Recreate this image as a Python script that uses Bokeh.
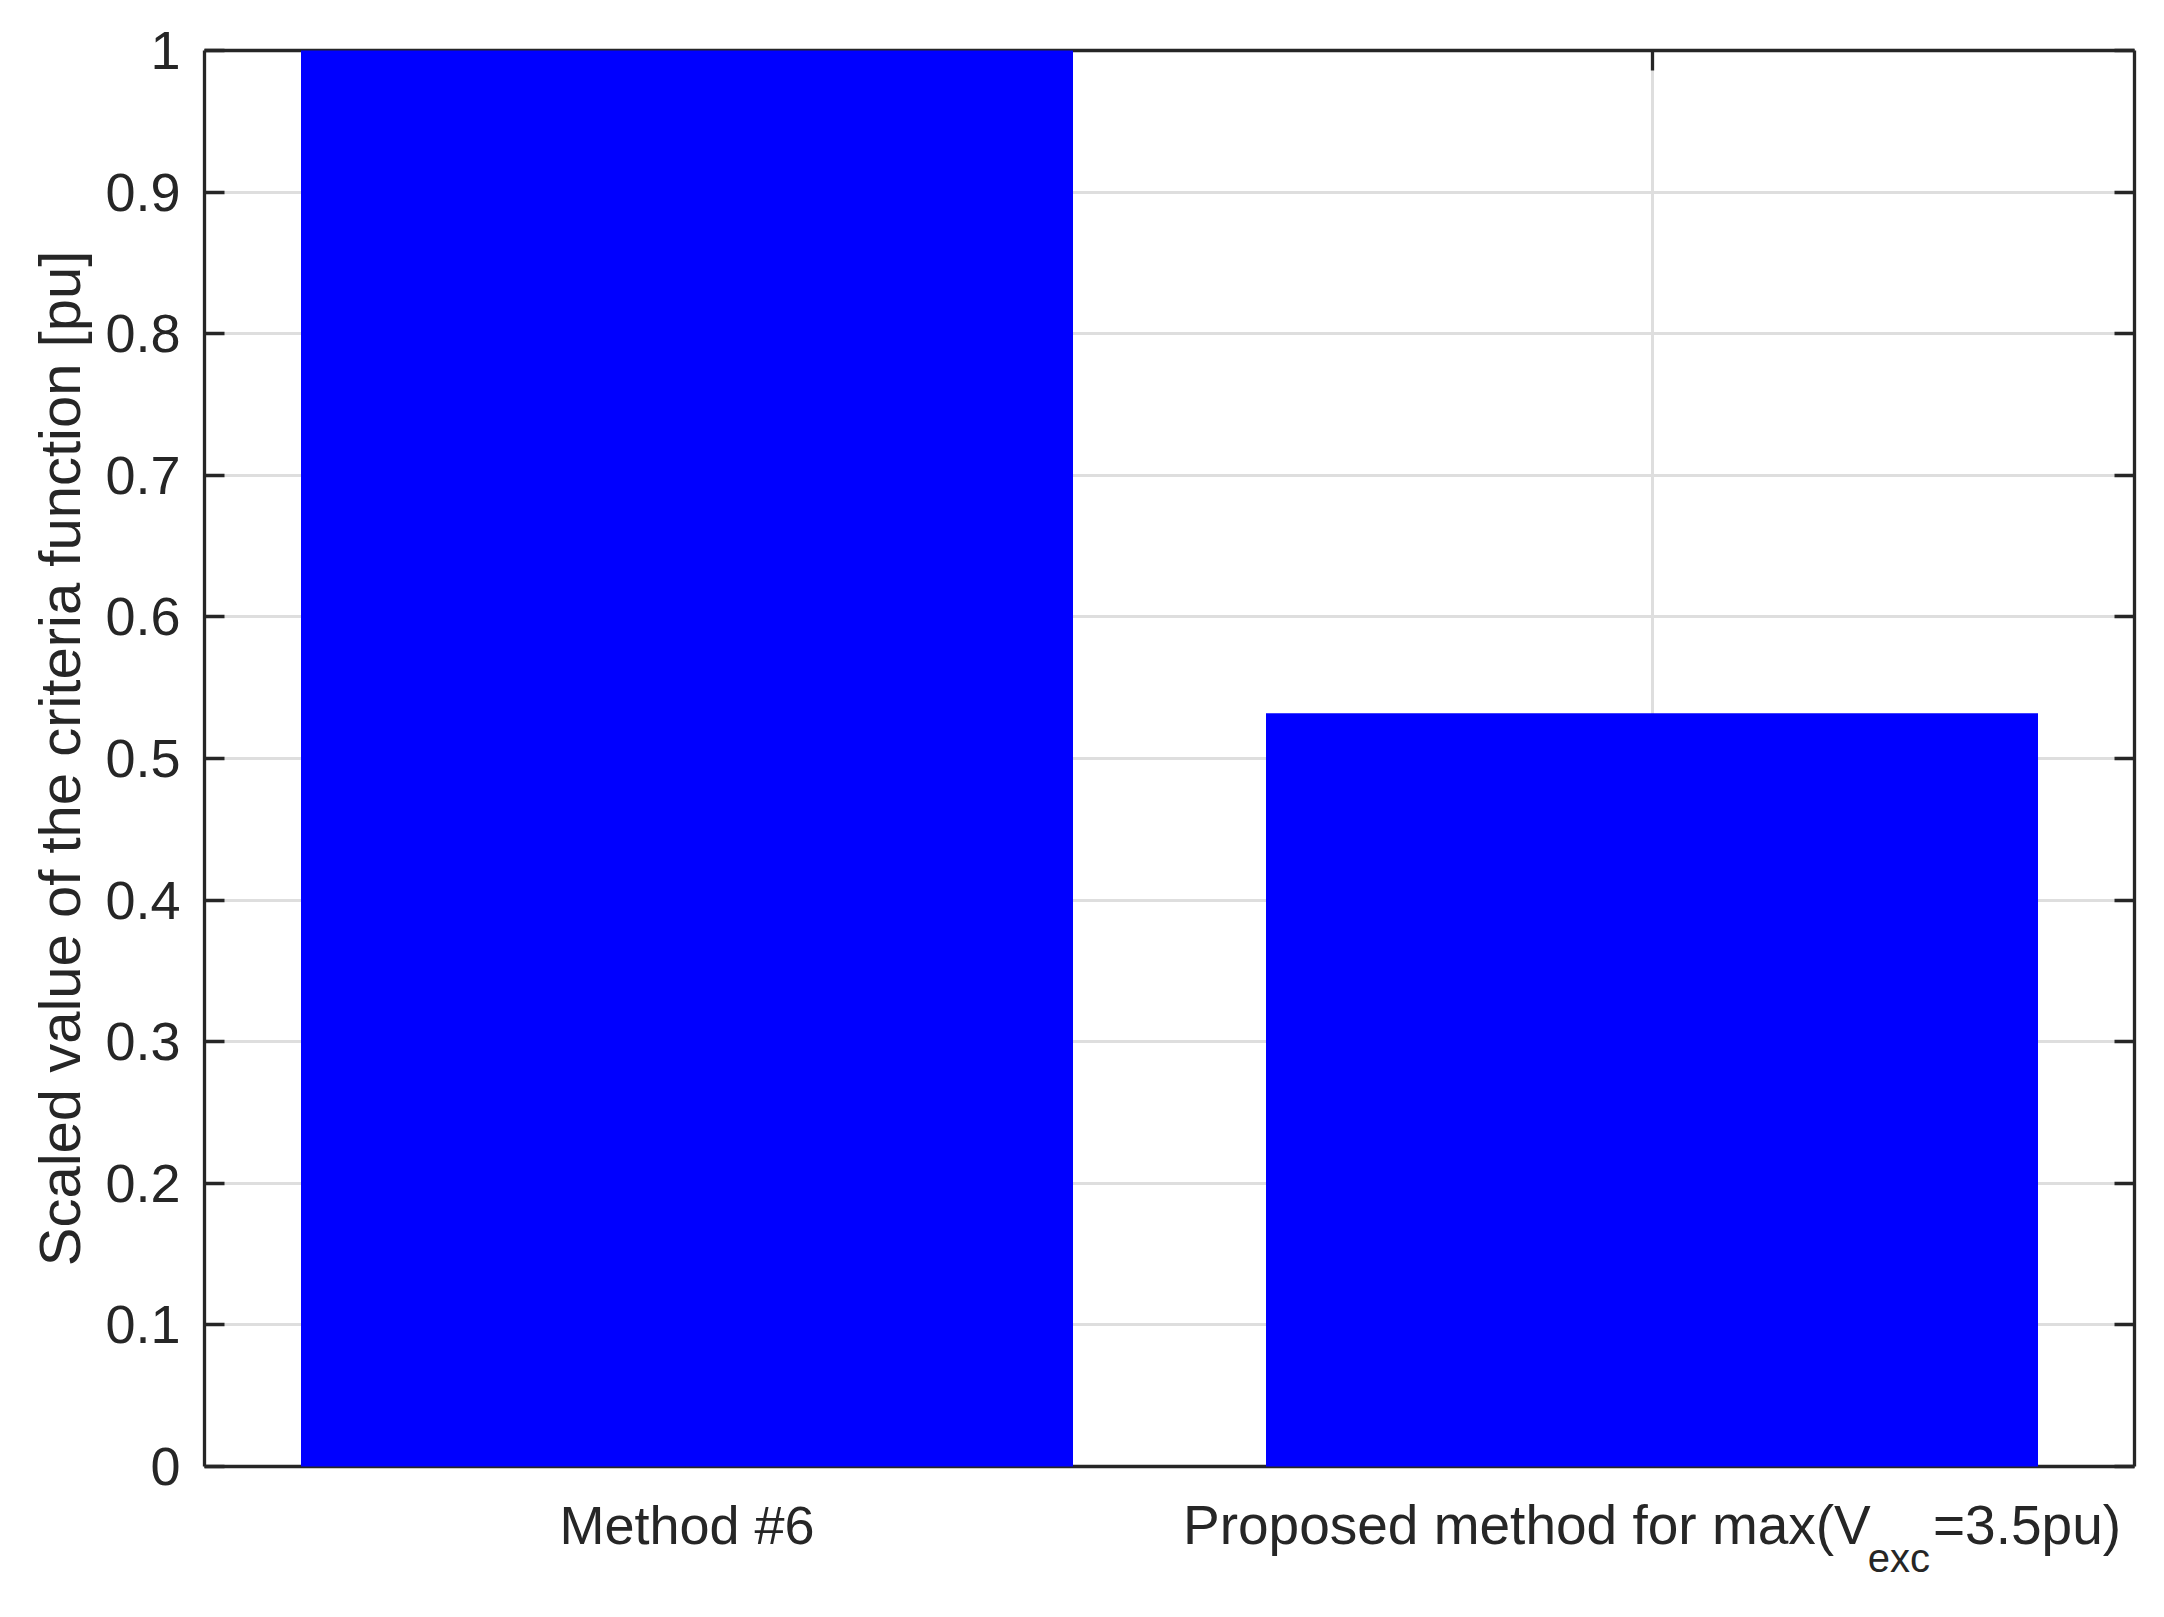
import math
from bokeh.plotting import figure
from bokeh.models import Range1d, FixedTicker, LinearAxis, Label
from bokeh.embed import file_html
from bokeh.resources import INLINE

# ---- data ----
categories = ["Method #6", "Proposed method for max(Vexc=3.5pu)"]
label2_parts = ["Proposed method for max(V", "exc", "=3.5pu)"]
values = [1.0, 0.532]
y_ticks = [0, 0.1, 0.2, 0.3, 0.4, 0.5, 0.6, 0.7, 0.8, 0.9, 1]
y_tick_labels = ["0", "0.1", "0.2", "0.3", "0.4", "0.5", "0.6", "0.7", "0.8", "0.9", "1"]
y_label = "Scaled value of the criteria function [pu]"

x_pos = [i + 1 for i in range(len(categories))]
X_LO, X_HI = 0.5, 2.5
Y_LO, Y_HI = 0.0, 1.0

FONT = "Liberation Sans"
TXT = "#262626"
TICK_FS = 54
LAB2_FS = 55
SUB_FS = 40
LABEL_FS = 58

# canvas layout (px): axes box and margins
W, H = 2164, 1617
LEFT, RIGHT, TOP, BOTTOM = 204, 30, 50, 151
box_w = W - LEFT - RIGHT
box_h = H - TOP - BOTTOM
ux = box_w / (X_HI - X_LO)
uy = box_h / (Y_HI - Y_LO)

p = figure(frame_width=W, frame_height=H,
           x_range=Range1d(X_LO - LEFT / ux, X_HI + RIGHT / ux),
           y_range=Range1d(Y_LO - BOTTOM / uy, Y_HI + TOP / uy),
           output_backend="svg", toolbar_location=None,
           min_border=0)
p.background_fill_color = "white"
p.border_fill_color = "white"
p.outline_line_color = None

# grid
p.xgrid.ticker = FixedTicker(ticks=x_pos, minor_ticks=[])
p.ygrid.ticker = FixedTicker(ticks=y_ticks, minor_ticks=[])
p.xgrid.bounds = (X_LO, X_HI)
p.ygrid.bounds = (Y_LO, Y_HI)
p.xgrid.cross_bounds = (Y_LO, Y_HI)
p.ygrid.cross_bounds = (X_LO, X_HI)
for g in (p.xgrid, p.ygrid):
    g.grid_line_color = "#dedede"
    g.grid_line_width = 3

def style_axis(ax):
    ax.axis_line_color = TXT
    ax.axis_line_width = 3.3
    ax.major_tick_line_color = TXT
    ax.major_tick_line_width = 3.3
    ax.major_tick_in = 20
    ax.major_tick_out = 0
    ax.minor_tick_line_color = None
    ax.major_label_text_font = FONT
    ax.major_label_text_font_size = f"{TICK_FS}px"
    ax.major_label_text_color = TXT

# bottom axis at y = 0
xa = p.xaxis[0]
xa.ticker = FixedTicker(ticks=x_pos, minor_ticks=[])
xa.major_label_overrides = {x_pos[0]: categories[0], x_pos[1]: ""}
xa.fixed_location = Y_LO
xa.bounds = (X_LO, X_HI)
style_axis(xa)
xa.major_label_standoff = 28

# left axis at x = X_LO
ya = p.yaxis[0]
ya.ticker = FixedTicker(ticks=y_ticks, minor_ticks=[])
ya.major_label_overrides = {t: l for t, l in zip(y_ticks, y_tick_labels)}
ya.fixed_location = X_LO
ya.bounds = (Y_LO, Y_HI)
style_axis(ya)
ya.major_label_standoff = 24

# top and right axes (box, ticks only)
top = LinearAxis(ticker=FixedTicker(ticks=x_pos, minor_ticks=[]),
                 fixed_location=Y_HI, bounds=(X_LO, X_HI))
right = LinearAxis(ticker=FixedTicker(ticks=y_ticks, minor_ticks=[]),
                   fixed_location=X_HI, bounds=(Y_LO, Y_HI))
for ax in (top, right):
    style_axis(ax)
    ax.major_label_text_font_size = "1px"
    ax.major_label_text_color = None
    ax.major_label_standoff = 0
p.add_layout(top, "above")
p.add_layout(right, "right")

# y axis title
p.add_layout(Label(x=X_LO, y=(Y_LO + Y_HI) / 2, x_offset=-145, text=y_label,
                   angle=math.pi / 2, text_align="center", text_baseline="middle",
                   text_font=FONT, text_font_size=f"{LABEL_FS}px", text_color=TXT))

# bars (drawn over axes, like MATLAB's bottom layer)
p.vbar(x=x_pos, top=values, bottom=Y_LO, width=0.8,
       fill_color="#0000ff", line_color=None, level="overlay")

# second category label with subscript (Arial/Liberation advance widths)
w_main1 = 12.505 * LAB2_FS
w_sub = 1.556 * SUB_FS
w_main2 = 3.419 * LAB2_FS
total = w_main1 + w_sub + w_main2
x0 = -total / 2
offsets = [x0, x0 + w_main1 - 3, x0 + w_main1 + w_sub]
sizes = [LAB2_FS, SUB_FS, LAB2_FS]
yoffs = [-58, -91, -58]
for txt, xo, fs, yo in zip(label2_parts, offsets, sizes, yoffs):
    p.add_layout(Label(x=x_pos[1], y=Y_LO, x_offset=xo, y_offset=yo, text=txt,
                       text_font=FONT, text_font_size=f"{fs}px",
                       text_color=TXT, text_align="left",
                       text_baseline="alphabetic"))

open("out.html", "w").write(file_html(p, INLINE))
